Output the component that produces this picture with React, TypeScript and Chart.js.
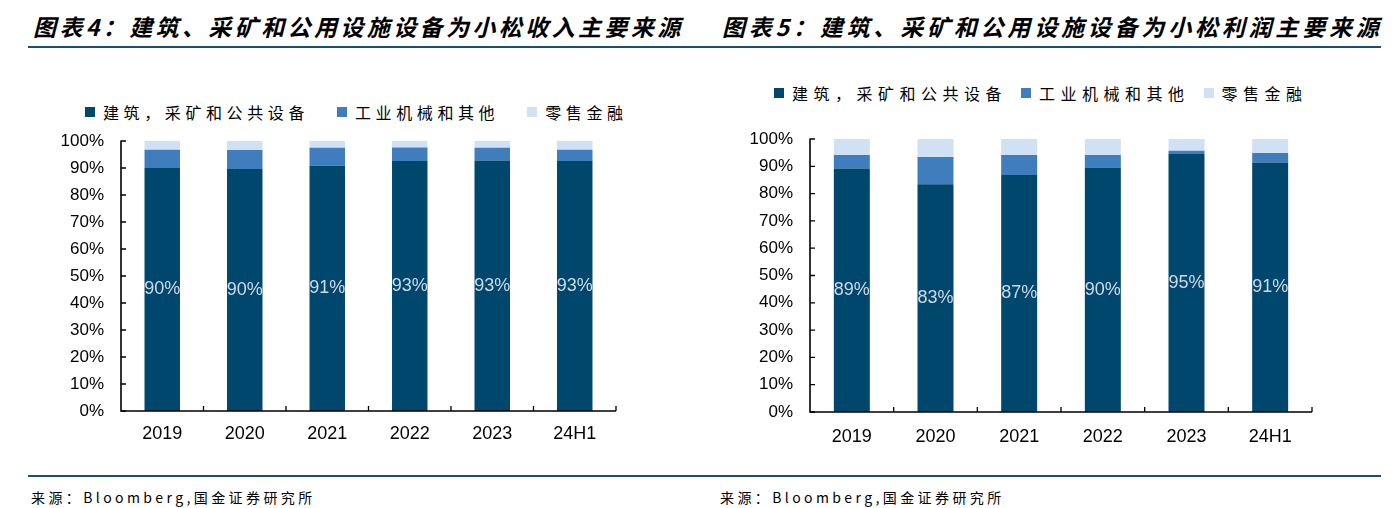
import React, { useEffect, useRef } from "react";
import { Chart, registerables } from "chart.js";

Chart.register(...registerables);

const categories = ["2019", "2020", "2021", "2022", "2023", "24H1"];
const seriesNames = ["建筑，采矿和公共设备", "工业机械和其他", "零售金融"];
const seriesColors = ["#00476d", "#3f7dbd", "#cfe1f2"];

const revenueConstruction = [90.0, 89.6, 90.8, 92.6, 92.8, 92.6];
const revenueIndustrial = [6.8, 7.1, 6.7, 5.0, 4.7, 4.2];
const revenueRetail = [3.2, 3.3, 2.5, 2.4, 2.5, 3.2];

const profitConstruction = [89.2, 83.4, 86.8, 89.6, 94.5, 91.4];
const profitIndustrial = [4.9, 10.0, 7.3, 4.5, 1.2, 3.5];
const profitRetail = [5.9, 6.6, 5.9, 5.9, 4.3, 5.1];

const yMin = 0;
const yMax = 100;
const yStep = 10;

const titleLeft = "图表4：建筑、采矿和公用设施设备为小松收入主要来源";
const titleRight = "图表5：建筑、采矿和公用设施设备为小松利润主要来源";
const sourceText = "来源：Bloomberg,国金证券研究所";

const axisPlugin = {
  id: "axisAndLabels",
  afterDatasetsDraw(chart: any) {
    const { ctx, chartArea } = chart;
    const { left, right, bottom } = chartArea;
    const xs = chart.scales.x;
    const ys = chart.scales.y;
    const meta = chart.getDatasetMeta(0);
    const data = chart.data.datasets[0].data as number[];
    ctx.save();
    ctx.font = "18px 'Liberation Sans', Arial, sans-serif";
    ctx.fillStyle = "#cfd9e3";
    ctx.textAlign = "center";
    ctx.textBaseline = "middle";
    meta.data.forEach((el: any, i: number) => {
      const y = (el.y + el.base) / 2;
      ctx.fillText(Math.round(data[i]) + "%", el.x, y);
    });
    ctx.restore();

    ctx.save();
    ctx.strokeStyle = "#000";
    ctx.lineWidth = 1.6;
    ctx.beginPath();
    ctx.moveTo(left, ys.getPixelForValue(yMax) - 0.5);
    ctx.lineTo(left, bottom);
    ctx.lineTo(right, bottom);
    ctx.stroke();
    ctx.lineWidth = 1.3;
    ctx.beginPath();
    for (let v = yMin; v <= yMax; v += yStep) {
      const y = ys.getPixelForValue(v);
      ctx.moveTo(left, y);
      ctx.lineTo(left + 5, y);
    }
    const n = categories.length;
    for (let i = 1; i <= n; i++) {
      const x =
        i < n
          ? (xs.getPixelForValue(i - 1) + xs.getPixelForValue(i)) / 2
          : right;
      ctx.moveTo(x, bottom);
      ctx.lineTo(x, bottom - 5);
    }
    ctx.stroke();
    ctx.restore();
  },
};

type ChartProps = {
  values: number[][];
  yWidth: number;
  padTop: number;
  padRight: number;
  xHeight: number;
  xPad: number;
};

const W = 696;
const H = 340;

function StackedChart({ values, yWidth, padTop, padRight, xHeight, xPad }: ChartProps) {
  const ref = useRef<HTMLCanvasElement>(null);
  useEffect(() => {
    if (!ref.current) return;
    const chart = new Chart(ref.current, {
      type: "bar",
      data: {
        labels: categories,
        datasets: seriesNames.map((name, i) => ({
          label: name,
          data: values[i],
          backgroundColor: seriesColors[i],
          borderWidth: 0,
          barPercentage: 0.43,
          categoryPercentage: 1,
        })),
      },
      options: {
        animation: false,
        responsive: false,
        maintainAspectRatio: false,
        layout: { padding: { left: 0, right: padRight, top: padTop, bottom: 0 } },
        plugins: {
          legend: { display: false },
          tooltip: { enabled: false },
          title: { display: false },
        },
        scales: {
          x: {
            stacked: true,
            grid: { display: false, drawTicks: false },
            border: { display: false },
            ticks: {
              color: "#000",
              padding: xPad,
              font: { family: "'Liberation Sans', Arial, sans-serif", size: 18 },
            },
            afterFit: (s: any) => {
              s.height = xHeight;
              s.paddingLeft = 0;
              s.paddingRight = 0;
            },
          },
          y: {
            stacked: true,
            min: yMin,
            max: yMax,
            grid: { display: false, drawTicks: false },
            border: { display: false },
            ticks: {
              stepSize: yStep,
              color: "#000",
              padding: 17,
              font: { family: "'Liberation Sans', Arial, sans-serif", size: 17 },
              callback: (v: any) => v + "%",
            },
            afterFit: (s: any) => {
              s.width = yWidth;
              s.paddingTop = 0;
              s.paddingBottom = 0;
            },
          },
        },
      },
      plugins: [axisPlugin],
    });
    return () => chart.destroy();
  }, []);
  return <canvas ref={ref} width={W} height={H} style={{ width: W, height: H, display: "block" }} />;
}

function Legend({ left, top, spacing, itemGap }: { left: number; top: number; spacing: number; itemGap: number }) {
  return (
    <div
      style={{
        position: "absolute",
        left,
        top,
        display: "flex",
        alignItems: "center",
        height: 20,
        whiteSpace: "nowrap",
        fontFamily: "'Noto Sans CJK SC', sans-serif",
        fontSize: 16,
        color: "#000",
      }}
    >
      {seriesNames.map((name, i) => (
        <div key={name} style={{ display: "flex", alignItems: "center", marginRight: itemGap }}>
          <div style={{ width: 10, height: 10, background: seriesColors[i], marginRight: 8 }} />
          <span style={{ letterSpacing: spacing, lineHeight: "20px" }}>{name}</span>
        </div>
      ))}
    </div>
  );
}

const titleStyle: React.CSSProperties = {
  position: "absolute",
  top: 12,
  fontFamily: "'Noto Sans CJK SC', sans-serif",
  fontWeight: 700,
  fontStyle: "italic",
  fontSize: 23,
  lineHeight: "28px",
  color: "#000",
  whiteSpace: "nowrap",
};

const sourceStyle: React.CSSProperties = {
  position: "absolute",
  top: 487,
  fontFamily: "'Noto Sans CJK SC', sans-serif",
  fontSize: 14,
  lineHeight: "20px",
  letterSpacing: 3.4,
  color: "#000",
  whiteSpace: "nowrap",
};

export default function App() {
  return (
    <div
      style={{
        position: "absolute",
        left: 0,
        top: 0,
        width: 1392,
        height: 508,
        background: "#fff",
        overflow: "hidden",
      }}
    >
      <div style={{ ...titleStyle, left: 33, letterSpacing: 3.4 }}>{titleLeft}</div>
      <div style={{ ...titleStyle, left: 722, letterSpacing: 3.8 }}>{titleRight}</div>
      <div style={{ position: "absolute", left: 28, top: 46, width: 1353, height: 2, background: "#1c4f6b" }} />
      <div style={{ position: "absolute", left: 28, top: 475, width: 1353, height: 2, background: "#1c4f6b" }} />

      <Legend left={85} top={102} spacing={4.6} itemGap={28} />
      <Legend left={774} top={83} spacing={5.5} itemGap={14} />

      <div style={{ position: "absolute", left: 0, top: 120 }}>
        <StackedChart
          values={[revenueConstruction, revenueIndustrial, revenueRetail]}
          yWidth={121}
          padTop={21}
          padRight={80}
          xHeight={49}
          xPad={12}
        />
      </div>
      <div style={{ position: "absolute", left: 696, top: 120 }}>
        <StackedChart
          values={[profitConstruction, profitIndustrial, profitRetail]}
          yWidth={114}
          padTop={19}
          padRight={80}
          xHeight={48}
          xPad={14}
        />
      </div>

      <div style={{ ...sourceStyle, left: 31 }}>{sourceText}</div>
      <div style={{ ...sourceStyle, left: 720 }}>{sourceText}</div>
    </div>
  );
}
